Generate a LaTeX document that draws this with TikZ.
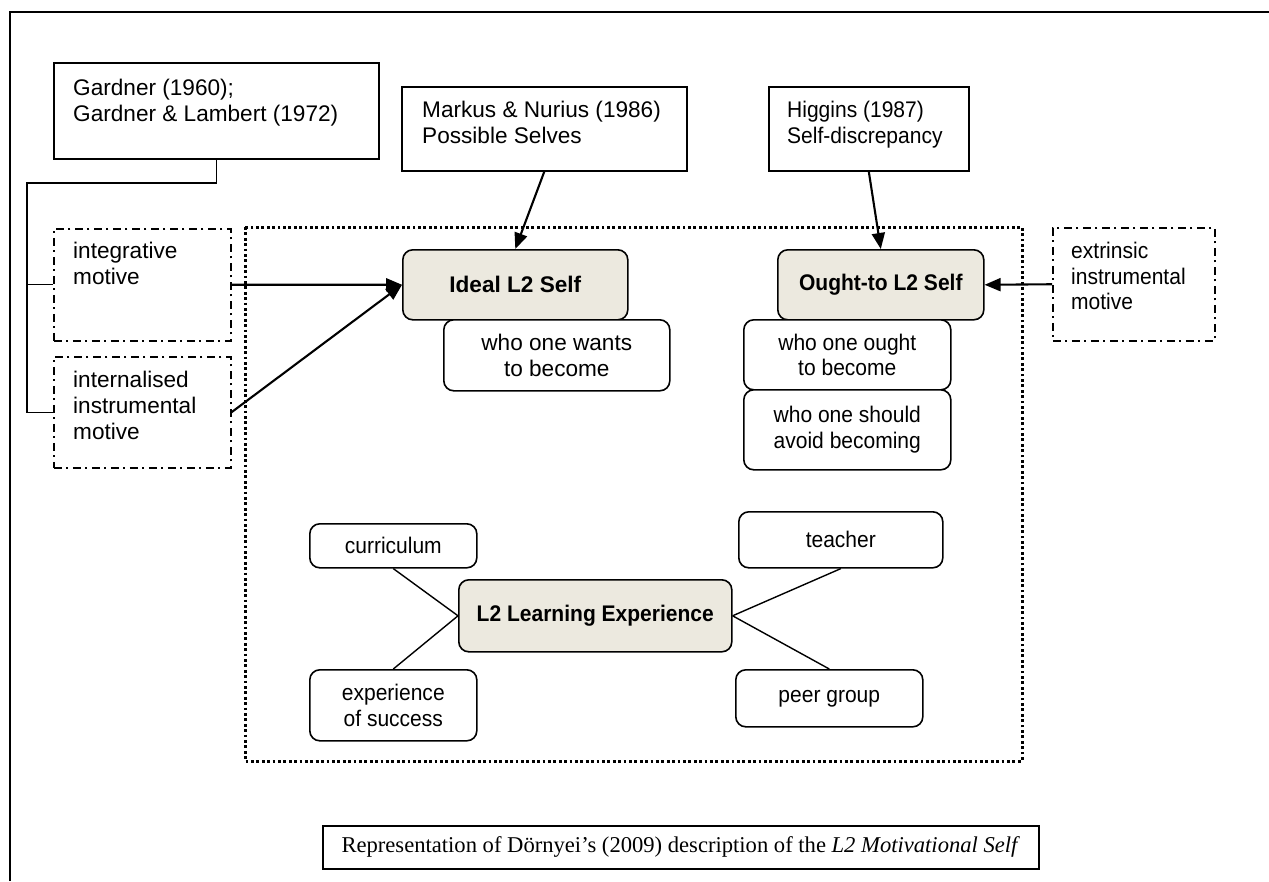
\documentclass[tikz,border=0pt]{standalone}
\usepackage{fontspec}
\setmainfont{Liberation Sans}
\newfontfamily\narrowsans[FakeStretch=0.93]{Liberation Sans}
\newfontfamily\capfont{Liberation Serif}
\usetikzlibrary{arrows.meta,calc}
\definecolor{selffill}{RGB}{236,233,223}
\newcommand{\narrowsize}{\narrowsans\fontsize{22.6}{25.5}\selectfont}
\newcommand{\widesize}{\fontsize{22.6}{26}\selectfont}
\begin{document}
\begin{tikzpicture}[x=1pt,y=-1pt,
  every node/.style={font=\narrowsize},
  wide/.style={font=\widesize},
  srcbox/.style={draw, line width=1.6pt, inner sep=0pt, anchor=north west},
  motbox/.style={draw, line width=1.5pt, dash pattern=on 8pt off 4.5pt on 2pt off 4.5pt, inner sep=0pt, anchor=north west},
  selfbox/.style={draw, line width=1.6pt, rounded corners=10pt, fill=selffill, inner sep=0pt, anchor=north west},
  facetbox/.style={draw, line width=1.6pt, rounded corners=10pt, fill=white, align=center, inner sep=0pt, anchor=north west},
  txt/.style={align=left, inner sep=0pt, anchor=north west},
  arr/.style={line width=2.1pt, -{Triangle[length=16pt,width=13pt]}},
  link/.style={line width=1.4pt},
  modelframe/.style={line width=3pt, dash pattern=on 2.8pt off 2.6pt},
]
\useasboundingbox (0,0) rectangle (1269,881);

% page frame
\draw[line width=2.2pt] (10,881) -- (10,12) -- (1269,12);

% dotted frame around the model
\draw[modelframe] (245,227) rectangle (1022,761);

% source theories
\node[srcbox, minimum width=325, minimum height=96] (gard) at (53,62) {};
\node[txt, wide] (gardtxt) at (73,79) {Gardner (1960);\\Gardner \& Lambert (1972)};
\node[srcbox, minimum width=285, minimum height=84] (markus) at (401,86) {};
\node[txt, wide] (markustxt) at (422,101) {Markus \& Nurius (1986)\\Possible Selves};
\node[srcbox, minimum width=200, minimum height=84] (higg) at (768,86) {};
\node[txt] (higgtxt) at (787,101) {Higgins (1987)\\Self-discrepancy};

% motives
\node[motbox, minimum width=177, minimum height=112] (integ) at (53,228) {};
\node[txt, wide] (integtxt) at (73,242) {integrative\\motive};
\node[motbox, minimum width=177, minimum height=111] (inst) at (53,356) {};
\node[txt, wide] (insttxt) at (73,371) {internalised\\instrumental\\motive};
\node[motbox, minimum width=162, minimum height=113] (extr) at (1052,227) {};
\node[txt] (extrtxt) at (1071,242) {extrinsic\\instrumental\\motive};

% selves
\node[selfbox, wide, minimum width=225, minimum height=70] (ideal) at (402,249) {\bfseries Ideal L2 Self};
\node[facetbox, wide, minimum width=226, minimum height=71] (wants) at (443,319) {who one wants\\to become};
\node[selfbox, minimum width=206, minimum height=70] (ought) at (777,249) {\bfseries Ought-to L2 Self};
\node[facetbox, minimum width=207, minimum height=70] (oughtbe) at (743,319) {who one ought\\to become};
\node[facetbox, minimum width=207, minimum height=80] (avoid) at (743,389) {who one should\\avoid becoming};

% learning experience
\node[selfbox, minimum width=273, minimum height=72] (l2) at (458,579) {\bfseries L2 Learning Experience};
\node[facetbox, minimum width=167, minimum height=44] (curr) at (309,523) {curriculum};
\node[facetbox, minimum width=167, minimum height=71] (succ) at (309,669) {experience\\of success};
\node[facetbox, minimum width=204, minimum height=56] (teach) at (738,511) {teacher};
\node[facetbox, minimum width=187, minimum height=57] (peer) at (735,669) {peer group};

\draw[link] (l2.west) -- (curr.south);
\draw[link] (l2.west) -- (succ.north);
\draw[link] (l2.east) -- (teach.south);
\draw[link] (l2.east) -- (peer.north);

% Gardner bracket
\coordinate (trunk) at (27,183);
\draw[link] (gard.south) |- (trunk) |- (inst.west);
\draw[link] (trunk |- integ.west) -- (integ.west);

% influences
\draw[arr] (integ.east) -- (ideal.west);
\draw[arr] (inst.east) -- (ideal.west);
\draw[arr] (markus.south) -- (ideal.north);
\draw[arr] (higg.south) -- (ought.north);
\draw[arr] (extr.west) -- (ought.east);

% caption
\node[draw, line width=1.6pt, minimum width=716, minimum height=43, inner sep=0pt, anchor=north west,
  font=\capfont\fontsize{22.6}{26}\selectfont] (cap) at (322,825)
  {Representation of Dörnyei’s (2009) description of the \textit{L2 Motivational Self}};
\end{tikzpicture}
\end{document}
